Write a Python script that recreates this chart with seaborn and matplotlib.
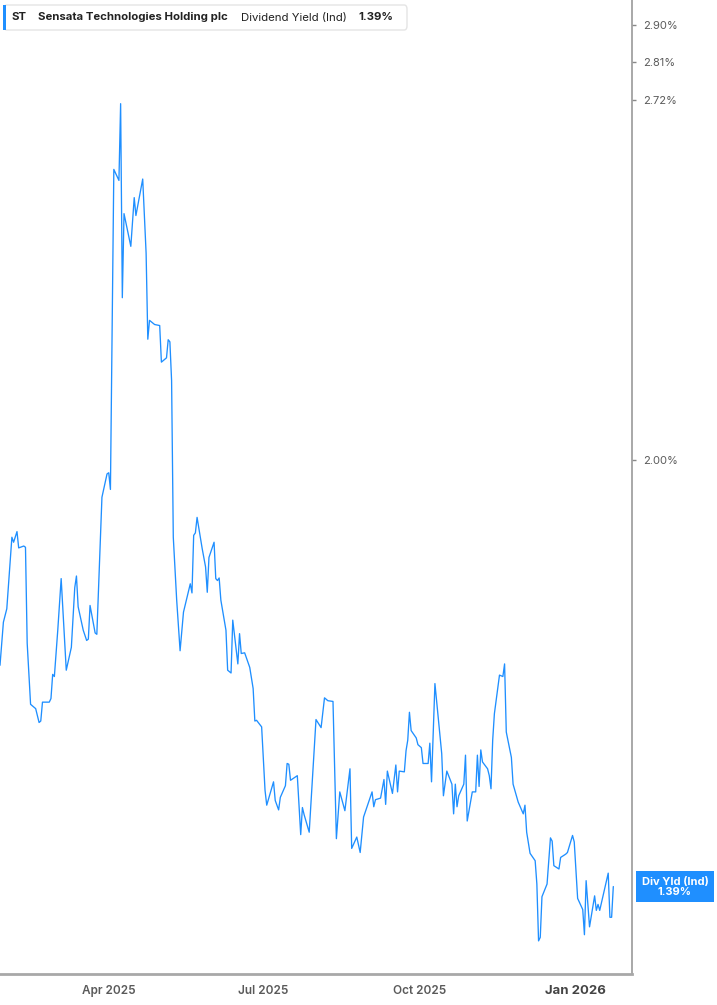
import pandas as pd
import matplotlib
matplotlib.use("Agg")
import matplotlib.pyplot as plt
import matplotlib.dates as mdates
import matplotlib.ticker as mticker
import matplotlib.transforms as mtransforms
from matplotlib.patches import FancyBboxPatch, Rectangle
import seaborn as sns

# Sensata Technologies (ST) - indicated dividend yield, %
dates = [
    "2025-01-27", "2025-01-29", "2025-01-31", "2025-02-01", "2025-02-03", "2025-02-04", "2025-02-06",
    "2025-02-07", "2025-02-10", "2025-02-11", "2025-02-12", "2025-02-14", "2025-02-17", "2025-02-19",
    "2025-02-20", "2025-02-21", "2025-02-25", "2025-02-26", "2025-02-27", "2025-02-28", "2025-03-02",
    "2025-03-04", "2025-03-07", "2025-03-10", "2025-03-12", "2025-03-13", "2025-03-14", "2025-03-17",
    "2025-03-19", "2025-03-20", "2025-03-21", "2025-03-24", "2025-03-25", "2025-03-28", "2025-03-29",
    "2025-03-31", "2025-04-01", "2025-04-02", "2025-04-04", "2025-04-07", "2025-04-08", "2025-04-09",
    "2025-04-10", "2025-04-14", "2025-04-16", "2025-04-17", "2025-04-21", "2025-04-23", "2025-04-24",
    "2025-04-25", "2025-04-28", "2025-05-01", "2025-05-02", "2025-05-05", "2025-05-06", "2025-05-07",
    "2025-05-08", "2025-05-09", "2025-05-11", "2025-05-13", "2025-05-15", "2025-05-19", "2025-05-20",
    "2025-05-21", "2025-05-22", "2025-05-23", "2025-05-26", "2025-05-28", "2025-05-29", "2025-05-30",
    "2025-06-02", "2025-06-03", "2025-06-04", "2025-06-05", "2025-06-06", "2025-06-09", "2025-06-10",
    "2025-06-12", "2025-06-13", "2025-06-16", "2025-06-17", "2025-06-18", "2025-06-20", "2025-06-23",
    "2025-06-25", "2025-06-26", "2025-06-27", "2025-06-30", "2025-07-02", "2025-07-03", "2025-07-07",
    "2025-07-08", "2025-07-10", "2025-07-11", "2025-07-14", "2025-07-15", "2025-07-16", "2025-07-17",
    "2025-07-21", "2025-07-23", "2025-07-24", "2025-07-25", "2025-07-28", "2025-08-01", "2025-08-04",
    "2025-08-06", "2025-08-08", "2025-08-11", "2025-08-13", "2025-08-15", "2025-08-18", "2025-08-21",
    "2025-08-22", "2025-08-25", "2025-08-27", "2025-08-29", "2025-09-03", "2025-09-04", "2025-09-05",
    "2025-09-08", "2025-09-10", "2025-09-11", "2025-09-12", "2025-09-15", "2025-09-17", "2025-09-18",
    "2025-09-19", "2025-09-22", "2025-09-23", "2025-09-24", "2025-09-25", "2025-09-26", "2025-09-29",
    "2025-09-30", "2025-10-02", "2025-10-03", "2025-10-06", "2025-10-07", "2025-10-08", "2025-10-10",
    "2025-10-14", "2025-10-15", "2025-10-17", "2025-10-20", "2025-10-21", "2025-10-22", "2025-10-23",
    "2025-10-24", "2025-10-27", "2025-10-28", "2025-10-29", "2025-11-01", "2025-11-03", "2025-11-04",
    "2025-11-05", "2025-11-06", "2025-11-07", "2025-11-10", "2025-11-11", "2025-11-12", "2025-11-13",
    "2025-11-14", "2025-11-17", "2025-11-19", "2025-11-20", "2025-11-21", "2025-11-24", "2025-11-25",
    "2025-11-28", "2025-12-01", "2025-12-02", "2025-12-03", "2025-12-05", "2025-12-08", "2025-12-09",
    "2025-12-10", "2025-12-11", "2025-12-12", "2025-12-15", "2025-12-17", "2025-12-18", "2025-12-19",
    "2025-12-22", "2025-12-23", "2025-12-26", "2025-12-27", "2025-12-30", "2025-12-31", "2026-01-02",
    "2026-01-05", "2026-01-06", "2026-01-07", "2026-01-09", "2026-01-12", "2026-01-13", "2026-01-14",
    "2026-01-15", "2026-01-20", "2026-01-21", "2026-01-22", "2026-01-23",
]
div_yield = [
    1.679, 1.742, 1.762, 1.798, 1.873, 1.865, 1.882,
    1.856, 1.859, 1.857, 1.711, 1.624, 1.618, 1.599,
    1.601, 1.627, 1.627, 1.632, 1.666, 1.663, 1.730,
    1.808, 1.672, 1.705, 1.794, 1.812, 1.765, 1.730,
    1.715, 1.717, 1.767, 1.726, 1.724, 1.938, 1.951,
    1.977, 1.979, 1.951, 2.564, 2.540, 2.712, 2.298,
    2.469, 2.401, 2.503, 2.465, 2.543, 2.387, 2.218,
    2.254, 2.246, 2.244, 2.175, 2.183, 2.217, 2.213,
    2.141, 1.873, 1.775, 1.700, 1.757, 1.800, 1.786,
    1.876, 1.880, 1.905, 1.855, 1.826, 1.787, 1.841,
    1.865, 1.808, 1.805, 1.809, 1.775, 1.730, 1.672,
    1.668, 1.745, 1.681, 1.725, 1.696, 1.697, 1.676,
    1.646, 1.601, 1.602, 1.593, 1.509, 1.490, 1.520,
    1.496, 1.484, 1.500, 1.515, 1.544, 1.543, 1.522,
    1.528, 1.453, 1.487, 1.478, 1.456, 1.603, 1.592,
    1.633, 1.629, 1.628, 1.448, 1.507, 1.483, 1.537,
    1.436, 1.450, 1.431, 1.475, 1.507, 1.488, 1.497,
    1.499, 1.523, 1.491, 1.534, 1.505, 1.542, 1.507,
    1.534, 1.533, 1.561, 1.575, 1.613, 1.588, 1.578,
    1.569, 1.565, 1.544, 1.544, 1.571, 1.520, 1.653,
    1.557, 1.502, 1.534, 1.517, 1.479, 1.517, 1.488,
    1.502, 1.517, 1.555, 1.470, 1.507, 1.507, 1.555,
    1.514, 1.562, 1.546, 1.537, 1.528, 1.511, 1.575,
    1.611, 1.665, 1.663, 1.681, 1.586, 1.552, 1.517,
    1.494, 1.479, 1.490, 1.456, 1.430, 1.421, 1.393,
    1.327, 1.331, 1.378, 1.393, 1.449, 1.445, 1.415,
    1.411, 1.425, 1.429, 1.431, 1.452, 1.444, 1.376,
    1.363, 1.334, 1.397, 1.343, 1.379, 1.362, 1.369,
    1.362, 1.406, 1.354, 1.354, 1.390,
]
y_ticks = [2.00, 2.72, 2.81, 2.90]
x_range = ["2025-01-27", "2026-02-03"]
y_range = [1.29, 2.963]

ticker_sym = "ST"
company = "Sensata Technologies Holding plc"
metric = "Dividend Yield (Ind)"
badge_label = "Div Yld (Ind)"

df = pd.DataFrame({"date": pd.to_datetime(dates), "yield": div_yield})
last_val = df["yield"].iloc[-1]

sns.set_style("white")
plt.rcParams["font.family"] = ["Inter", "DejaVu Sans"]

W, H = 717, 1005
fig = plt.figure(figsize=(W / 100, H / 100), dpi=100)
ax = fig.add_axes([0, 31 / H, 632 / W, 974 / H])

blue = "#1f8fff"
grey = "#a8a8a8"
label_grey = "#5a5a5a"

sns.lineplot(data=df, x="date", y="yield", ax=ax, color=blue, linewidth=0.95)

ax.set_yscale("log")
ax.set_ylim(*y_range)
ax.set_xlim(pd.to_datetime(x_range[0]), pd.to_datetime(x_range[1]))
ax.yaxis.set_major_locator(mticker.FixedLocator(y_ticks))
ax.yaxis.set_major_formatter(mticker.FuncFormatter(lambda v, p: f"{v:.2f}%"))
ax.yaxis.set_minor_locator(mticker.NullLocator())
ax.yaxis.tick_right()
ax.set_xlabel("")
ax.set_ylabel("")

ax.xaxis.set_major_locator(mdates.MonthLocator(bymonth=[1, 4, 7, 10]))
ax.xaxis.set_major_formatter(mdates.DateFormatter("%b %Y"))
ax.xaxis.set_minor_locator(mticker.NullLocator())

for s in ["top", "left"]:
    ax.spines[s].set_visible(False)
ax.spines["right"].set_color("#999999")
ax.spines["right"].set_linewidth(1.2)
ax.spines["bottom"].set_color(grey)
ax.spines["bottom"].set_linewidth(2)

ax.tick_params(axis="y", which="major", direction="out", length=3, width=1,
               color="#888888", pad=5, labelsize=8, labelcolor=label_grey)
ax.tick_params(axis="x", which="major", direction="out", length=4, width=1,
               color="#888888", pad=4, labelsize=8.5, labelcolor=label_grey)
for lbl in ax.get_xticklabels():
    lbl.set_fontweight("semibold")
    if lbl.get_text().startswith("Jan"):
        lbl.set_fontweight("bold")
        lbl.set_fontsize(9.5)
        lbl.set_color("#444444")

# current value badge on the right axis
trans = mtransforms.blended_transform_factory(ax.transAxes, ax.transData)
ax.text(1.068, last_val, f"{badge_label}\n{last_val:.2f}%", transform=trans,
        ha="center", va="center", color="white", fontsize=8, fontweight="bold",
        linespacing=1.0, clip_on=False,
        bbox=dict(boxstyle="square,pad=0.5", fc=blue, ec="none"))

# header legend box
fig.patches.append(FancyBboxPatch((4 / W, 1 - 30 / H), 403 / W, 25 / H,
                                  boxstyle="round,pad=0,rounding_size=0.004",
                                  transform=fig.transFigure, fc="white",
                                  ec="#e4e4e4", lw=1))
fig.patches.append(Rectangle((3 / W, 1 - 30 / H), 3 / W, 25 / H,
                             transform=fig.transFigure, fc=blue, ec="none"))
ty = 1 - 17.5 / H
hsize = 8.2
fig.text(12 / W, ty, ticker_sym, fontsize=hsize, fontweight="bold", color="#222222", va="center")
fig.text(38 / W, ty, company, fontsize=hsize, fontweight="bold", color="#222222", va="center")
fig.text(241 / W, ty, metric, fontsize=hsize, color="#222222", va="center")
fig.text(358 / W, ty, f"{last_val:.2f}%", fontsize=hsize, fontweight="bold", color="#222222", va="center")

fig.savefig("out.png", dpi=100)
